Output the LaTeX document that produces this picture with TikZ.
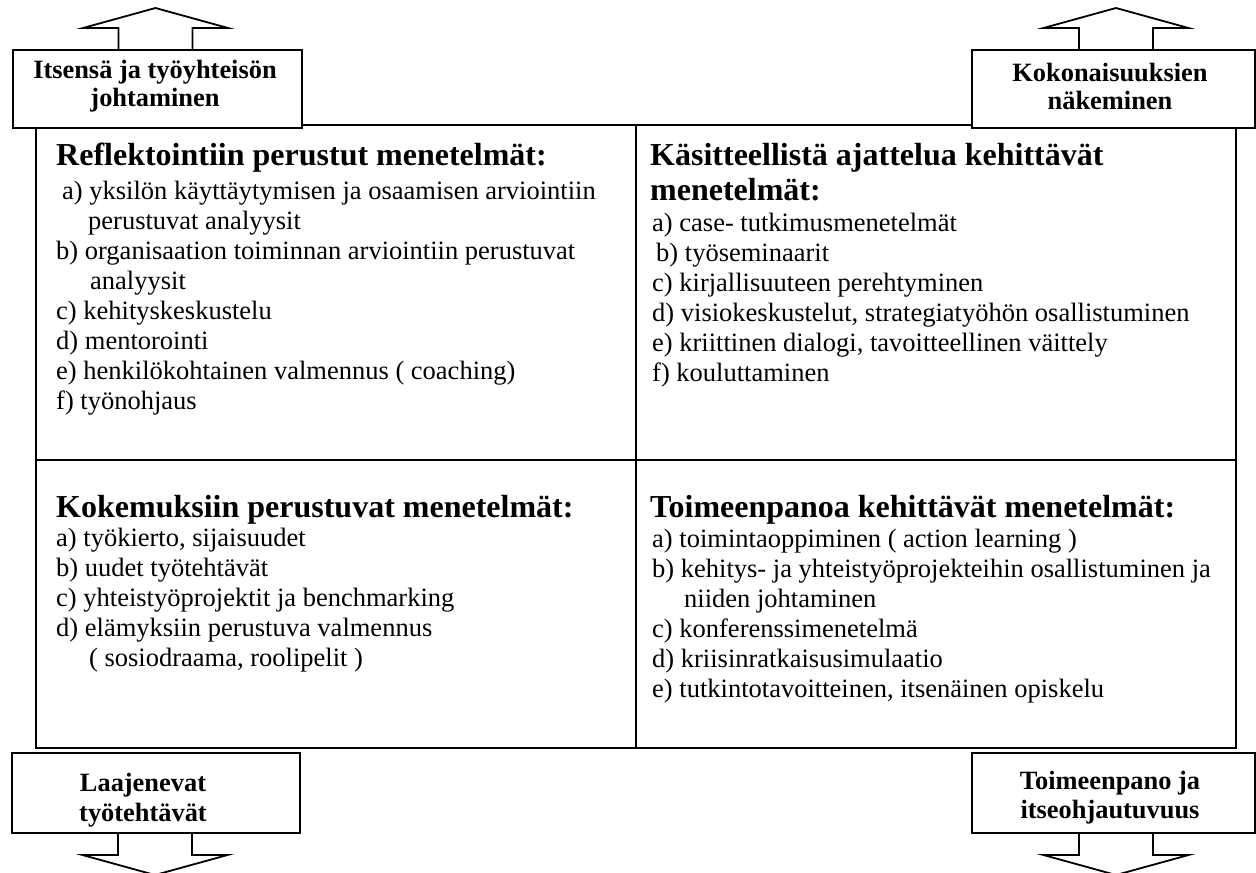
\documentclass[tikz,border=0pt]{standalone}
\usepackage{fontspec}
\setmainfont{Liberation Serif}
\usepackage{tikz}
\tikzset{
  cell/.style  ={rectangle, draw, line width=2pt, inner sep=0pt, minimum width=600pt},
  hd/.style    ={anchor=base west, inner sep=0pt, align=left, font=\fontsize{32}{35}\selectfont\bfseries},
  itm/.style   ={anchor=base west, inner sep=0pt, align=left, font=\fontsize{26.5}{30}\selectfont},
  tag/.style   ={rectangle, draw, line width=2pt, fill=white, inner sep=0pt},
  tagtxt/.style={align=center, inner sep=0pt, font=\fontsize{26.4}{28}\selectfont\bfseries},
  bigarr/.style={draw, line width=1.8pt, line join=miter},
}

\begin{document}
\begin{tikzpicture}[x=1pt, y=-1pt]
  \useasboundingbox (0,0) rectangle (1256,873);
  \node[cell, minimum height=335pt, anchor=north west] (cTL) at (35,124) {};
  \node[cell, minimum height=335pt, anchor=north west] (cTR) at (635,124) {};
  \node[cell, minimum height=288pt, anchor=north west] (cBL) at (35,459) {};
  \node[cell, minimum height=288pt, anchor=north west] (cBR) at (635,459) {};

  % multi-line nodes sit on the baseline of their last line
  \node[hd] (hdTL) at (56,165) {Reflektointiin perustut menetelmät:};
  \node[itm] (itTL) at (56,409) {\hspace*{6pt}a) yksilön käyttäytymisen ja osaamisen arviointiin\\
    \hspace*{32pt}perustuvat analyysit\\
    b) organisaation toiminnan arviointiin perustuvat\\
    \hspace*{34pt}analyysit\\
    c) kehityskeskustelu\\
    d) mentorointi\\
    e) henkilökohtainen valmennus ( coaching)\\
    f) työnohjaus};

  \node[hd] (hdTR) at (650,200) {Käsitteellistä ajattelua kehittävät\\menetelmät:};
  \node[itm] (itTR) at (652,381) {a) case- tutkimusmenetelmät\\
    \hspace*{4pt}b) työseminaarit\\
    c) kirjallisuuteen perehtyminen\\
    d) visiokeskustelut, strategiatyöhön osallistuminen\\
    e) kriittinen dialogi, tavoitteellinen väittely\\
    f) kouluttaminen};

  \node[hd] (hdBL) at (56,517) {Kokemuksiin perustuvat menetelmät:};
  \node[itm] (itBL) at (56,666) {a) työkierto, sijaisuudet\\
    b) uudet työtehtävät\\
    c) yhteistyöprojektit ja benchmarking\\
    d) elämyksiin perustuva valmennus\\
    \hspace*{33pt}( sosiodraama, roolipelit )};

  \node[hd] (hdBR) at (650,517) {Toimeenpanoa kehittävät menetelmät:};
  \node[itm] (itBR) at (652,697) {a) toimintaoppiminen ( action learning )\\
    b) kehitys- ja yhteistyöprojekteihin osallistuminen ja\\
    \hspace*{32pt}niiden johtaminen\\
    c) konferenssimenetelmä\\
    d) kriisinratkaisusimulaatio\\
    e) tutkintotavoitteinen, itsenäinen opiskelu};

  \node[tag, minimum width=289pt, minimum height=78pt] (tl) at (157.5,89) {};
  \node[tagtxt] (ttl) at (155,86) {Itsensä ja työyhteisön\\johtaminen};
  \node[tag, minimum width=283pt, minimum height=78pt] (tr) at (1113.5,89) {};
  \node[tagtxt] (ttr) at (1110,86) {Kokonaisuuksien\\näkeminen};
  \node[tag, minimum width=288pt, minimum height=80pt] (bl) at (156,793) {};
  \node[tagtxt, font=\fontsize{26.4}{30}\selectfont\bfseries] (tbl) at (143,800) {Laajenevat\\työtehtävät};
  \node[tag, minimum width=283pt, minimum height=80pt] (br) at (1113.5,793) {};
  \node[tagtxt, font=\fontsize{26.4}{29}\selectfont\bfseries] (tbr) at (1110,798) {Toimeenpano ja\\itseohjautuvuus};

  \foreach \b/\a/\s/\t/\dx in {tl/north/-1/1/-2, tr/north/-1/1/2.5, bl/south/1/-1/-1, br/south/1/-1/2.5}
    \draw[bigarr] ([xshift={(\dx-37)*1pt}]\b.\a) -- ++(0,21*\s) -- ++(-35.5,0) -- ++(72.5,20*\s)
      -- ++(72.5,20*\t) -- ++(-35.5,0) -- ++(0,21*\t);
\end{tikzpicture}
\end{document}
